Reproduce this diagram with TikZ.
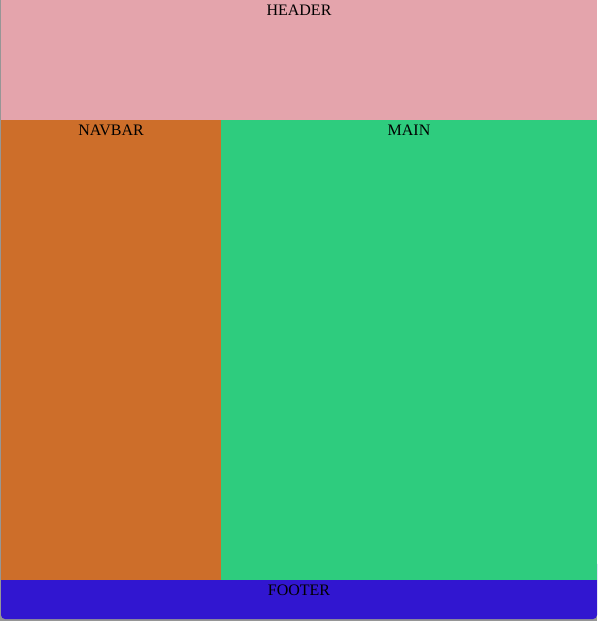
\documentclass[tikz,border=0pt]{standalone}
\usepackage{fontspec}
\setmainfont{Liberation Serif}
\definecolor{hdr}{RGB}{228,164,172}
\definecolor{nav}{RGB}{205,110,42}
\definecolor{mn}{RGB}{46,204,126}
\definecolor{ftr}{RGB}{49,22,208}
\definecolor{edge}{RGB}{150,150,150}
\tikzset{
  region/.style={draw=none},
  lbl/.style={anchor=base, inner sep=0pt, font=\fontsize{16}{18}\selectfont, text=black}
}
\begin{document}
\begin{tikzpicture}[x=1pt,y=-1pt]
\useasboundingbox (0,0) rectangle (597,621);
\fill[edge] (0,0) rectangle (597,621);
\fill[ftr, rounded corners=4pt] (1,560) rectangle (597,619);
\fill[hdr] (1,0) rectangle (597,120);
\fill[nav] (1,120) rectangle (221,580);
\fill[mn] (221,120) rectangle (597,580);
\node[lbl] (header) at (299,15) {HEADER};
\node[lbl] (navbar) at (111,135) {NAVBAR};
\node[lbl] (main) at (409,135) {MAIN};
\node[lbl] (footer) at (299,595) {FOOTER};
\end{tikzpicture}
\end{document}
